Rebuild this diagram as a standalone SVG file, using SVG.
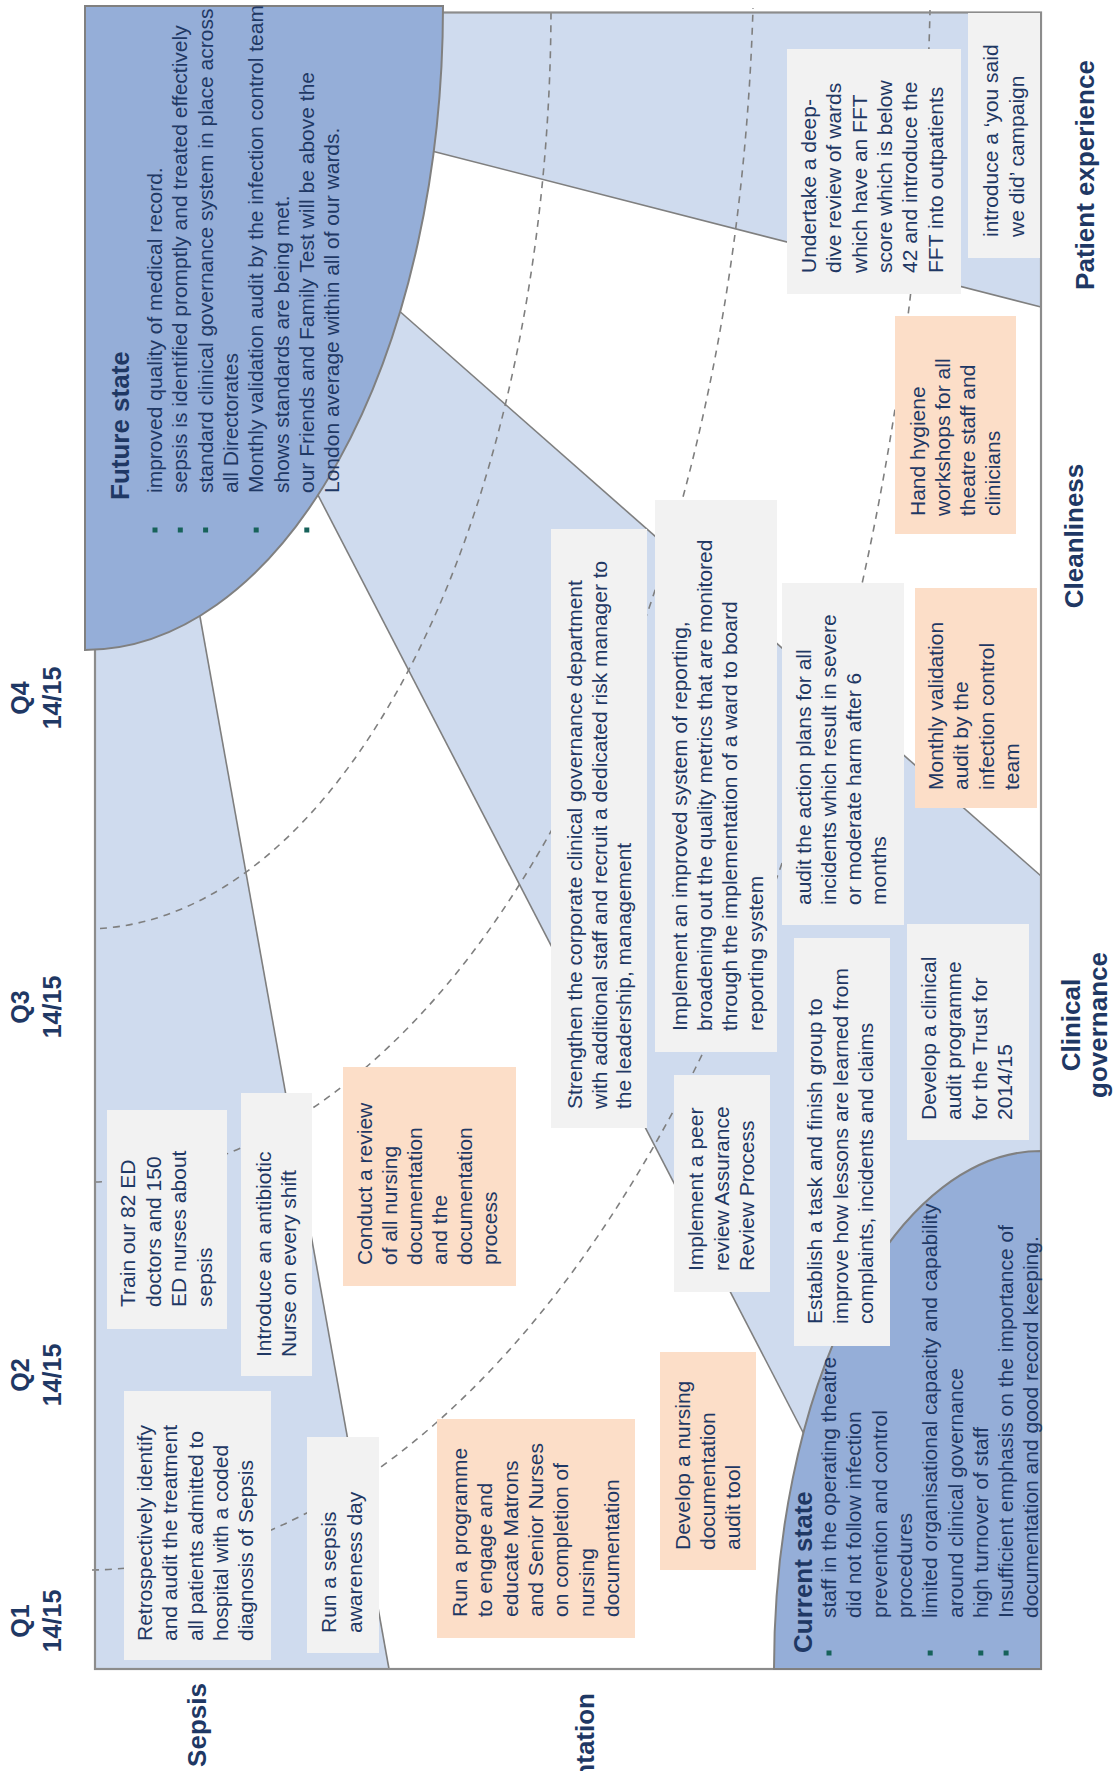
<svg xmlns="http://www.w3.org/2000/svg" width="1117" height="1771" viewBox="0 0 1117 1771">
<style>
.band{fill:#CFDBEE}
.edge{stroke:#7F7F7F;stroke-width:1.6;fill:none}
.arc{stroke:#7F7F7F;stroke-width:1.6;fill:none;stroke-dasharray:7 6}
.frame{stroke:#8C8C8C;stroke-width:2.2;fill:none}
.g{fill:#F2F2F2}
.p{fill:#FCDEC8}
.state{fill:#95AED8;stroke:#808080;stroke-width:2}
.t{font-family:"Liberation Sans",Arial,sans-serif;font-size:21px;fill:#1F3864}
.h{font-family:"Liberation Sans",Arial,sans-serif;font-size:26px;font-weight:bold;fill:#1F3864}
.q{font-family:"Liberation Sans",Arial,sans-serif;font-size:25px;font-weight:bold;fill:#1F3864}
.bul{fill:#17625A}
</style>
<rect width="1117" height="1771" fill="#FFFFFF"/>

<g id="lanes">
<polygon class="band" points="95,600 197,600 389,1669 95,1669"/>
<polygon class="band" points="305,470 380,294 1041,876 1041,1200 838,1500"/>
<polygon class="band" points="420,12.5 1041,12.5 1041,307 420,148"/>
</g>

<g id="milestones">
<path class="arc" d="M100,928.5 A466,923 0 0 0 551,10"/>
<path class="arc" d="M95,1182 A669,1242 0 0 0 753,8"/>
<path class="arc" d="M92,1570 A846,1630 0 0 0 930,10"/>
</g>

<g id="lane-edges">
<path class="edge" d="M197,600 L389,1669"/>
<path class="edge" d="M305,470 L838,1500"/>
<path class="edge" d="M380,294 L1041,876"/>
<path class="edge" d="M420,148 L1041,307"/>
<rect class="frame" x="95" y="12.5" width="946" height="1656.5"/>
</g>

<g id="future-state">
<path class="state" d="M85,6 H443 A358,644 0 0 1 85,650 Z"/>
<text class="h" transform="translate(129,500) rotate(-90)">Future state</text>
<rect class="bul" x="152.5" y="527.5" width="5" height="5"/>
<rect class="bul" x="177.8" y="527.5" width="5" height="5"/>
<rect class="bul" x="203.1" y="527.5" width="5" height="5"/>
<rect class="bul" x="253.7" y="527.5" width="5" height="5"/>
<rect class="bul" x="304.3" y="527.5" width="5" height="5"/>
<text class="t" transform="translate(162,493) rotate(-90)"><tspan x="0" y="0">improved quality of medical record.</tspan><tspan x="0" dy="25.3">sepsis is identified promptly and treated effectively</tspan><tspan x="0" dy="25.3">standard clinical governance system in place across</tspan><tspan x="0" dy="25.3">all Directorates</tspan><tspan x="0" dy="25.3">Monthly validation audit by the infection control team</tspan><tspan x="0" dy="25.3">shows standards are being met.</tspan><tspan x="0" dy="25.3">our Friends and Family Test will be above the</tspan><tspan x="0" dy="25.3">London average within all of our wards.</tspan></text>
</g>

<g id="current-state">
<path class="state" d="M1041,1669 H774 A267,518 0 0 1 1041,1151 Z"/>
<text class="h" transform="translate(812,1653) rotate(-90)">Current state</text>
<rect class="bul" x="826.5" y="1650.5" width="5" height="5"/>
<rect class="bul" x="927.7" y="1650.5" width="5" height="5"/>
<rect class="bul" x="978.3" y="1650.5" width="5" height="5"/>
<rect class="bul" x="1003.6" y="1650.5" width="5" height="5"/>
<text class="t" transform="translate(836,1618) rotate(-90)"><tspan x="0" y="0">staff in the operating theatre</tspan><tspan x="0" dy="25.3">did not follow infection</tspan><tspan x="0" dy="25.3">prevention and control</tspan><tspan x="0" dy="25.3">procedures</tspan><tspan x="0" dy="25.3">limited organisational capacity and capability</tspan><tspan x="0" dy="25.3">around clinical governance</tspan><tspan x="0" dy="25.3">high turnover of staff</tspan><tspan x="0" dy="25.3">Insufficient emphasis on the importance of</tspan><tspan x="0" dy="25.3">documentation and good record keeping.</tspan></text>
</g>

<g id="retrospective-audit">
<rect class="g" x="124" y="1391" width="147" height="269"/>
<text class="t" transform="translate(152,1641) rotate(-90)"><tspan x="0" y="0">Retrospectively identify</tspan><tspan x="0" dy="25.3">and audit the treatment</tspan><tspan x="0" dy="25.3">all patients admitted to</tspan><tspan x="0" dy="25.3">hospital with a coded</tspan><tspan x="0" dy="25.3">diagnosis of Sepsis</tspan></text>
</g>

<g id="sepsis-awareness-day">
<rect class="g" x="307" y="1437" width="72" height="216"/>
<text class="t" transform="translate(336,1633) rotate(-90)"><tspan x="0" y="0">Run a sepsis</tspan><tspan x="0" dy="26">awareness day</tspan></text>
</g>

<g id="train-ed-staff">
<rect class="g" x="107" y="1110" width="120" height="219"/>
<text class="t" transform="translate(135,1307) rotate(-90)"><tspan x="0" y="0">Train our 82 ED</tspan><tspan x="0" dy="25.5">doctors and 150</tspan><tspan x="0" dy="25.5">ED nurses about</tspan><tspan x="0" dy="25.5">sepsis</tspan></text>
</g>

<g id="antibiotic-nurse">
<rect class="g" x="241" y="1093" width="71" height="283"/>
<text class="t" transform="translate(271,1357) rotate(-90)"><tspan x="0" y="0">Introduce an antibiotic</tspan><tspan x="0" dy="25">Nurse on every shift</tspan></text>
</g>

<g id="review-nursing-documentation">
<rect class="p" x="343" y="1067" width="173" height="219"/>
<text class="t" transform="translate(372,1265) rotate(-90)"><tspan x="0" y="0">Conduct a review</tspan><tspan x="0" dy="25">of all nursing</tspan><tspan x="0" dy="25">documentation</tspan><tspan x="0" dy="25">and the</tspan><tspan x="0" dy="25">documentation</tspan><tspan x="0" dy="25">process</tspan></text>
</g>

<g id="matrons-programme">
<rect class="p" x="437" y="1419" width="198" height="219"/>
<text class="t" transform="translate(467,1617) rotate(-90)"><tspan x="0" y="0">Run a programme</tspan><tspan x="0" dy="25.3">to engage and</tspan><tspan x="0" dy="25.3">educate Matrons</tspan><tspan x="0" dy="25.3">and Senior Nurses</tspan><tspan x="0" dy="25.3">on completion of</tspan><tspan x="0" dy="25.3">nursing</tspan><tspan x="0" dy="25.3">documentation</tspan></text>
</g>

<g id="documentation-audit-tool">
<rect class="p" x="660" y="1352" width="96" height="218"/>
<text class="t" transform="translate(690,1550) rotate(-90)"><tspan x="0" y="0">Develop a nursing</tspan><tspan x="0" dy="25">documentation</tspan><tspan x="0" dy="25">audit tool</tspan></text>
</g>

<g id="peer-review">
<rect class="g" x="674" y="1075" width="96" height="217"/>
<text class="t" transform="translate(703,1271) rotate(-90)"><tspan x="0" y="0">Implement a peer</tspan><tspan x="0" dy="25.5">review Assurance</tspan><tspan x="0" dy="25.5">Review Process</tspan></text>
</g>

<g id="task-finish-group">
<rect class="g" x="794" y="938" width="96" height="408"/>
<text class="t" transform="translate(822,1324) rotate(-90)"><tspan x="0" y="0">Establish a task and finish group to</tspan><tspan x="0" dy="25.5">improve how lessons are learned from</tspan><tspan x="0" dy="25.5">complaints, incidents and claims</tspan></text>
</g>

<g id="clinical-audit-programme">
<rect class="g" x="907" y="924" width="122" height="216"/>
<text class="t" transform="translate(936,1120) rotate(-90)"><tspan x="0" y="0">Develop a clinical</tspan><tspan x="0" dy="25.3">audit programme</tspan><tspan x="0" dy="25.3">for the Trust for</tspan><tspan x="0" dy="25.3">2014/15</tspan></text>
</g>

<g id="audit-action-plans">
<rect class="g" x="782" y="583" width="122" height="342"/>
<text class="t" transform="translate(811,905) rotate(-90)"><tspan x="0" y="0">audit the action plans for all</tspan><tspan x="0" dy="25">incidents which result in severe</tspan><tspan x="0" dy="25">or moderate harm after 6</tspan><tspan x="0" dy="25">months</tspan></text>
</g>

<g id="monthly-validation">
<rect class="p" x="915" y="588" width="122" height="220"/>
<text class="t" transform="translate(943,790) rotate(-90)"><tspan x="0" y="0">Monthly validation</tspan><tspan x="0" dy="25.3">audit by the</tspan><tspan x="0" dy="25.3">infection control</tspan><tspan x="0" dy="25.3">team</tspan></text>
</g>

<g id="hand-hygiene">
<rect class="p" x="895" y="316" width="121" height="218"/>
<text class="t" transform="translate(925,516) rotate(-90)"><tspan x="0" y="0">Hand hygiene</tspan><tspan x="0" dy="25">workshops for all</tspan><tspan x="0" dy="25">theatre staff and</tspan><tspan x="0" dy="25">clinicians</tspan></text>
</g>

<g id="fft-review">
<rect class="g" x="787" y="49" width="174" height="245"/>
<text class="t" transform="translate(816,273) rotate(-90)"><tspan x="0" y="0">Undertake a deep-</tspan><tspan x="0" dy="25.3">dive review of wards</tspan><tspan x="0" dy="25.3">which have an FFT</tspan><tspan x="0" dy="25.3">score which is below</tspan><tspan x="0" dy="25.3">42 and introduce the</tspan><tspan x="0" dy="25.3">FFT into outpatients</tspan></text>
</g>

<g id="you-said-we-did">
<rect class="g" x="968" y="13" width="72" height="245"/>
<text class="t" transform="translate(998,237) rotate(-90)"><tspan x="0" y="0">introduce a ‘you said</tspan><tspan x="0" dy="26">we did’ campaign</tspan></text>
</g>

<g id="reporting-system">
<rect class="g" x="655" y="500" width="122" height="552"/>
<text class="t" transform="translate(687,1031) rotate(-90)"><tspan x="0" y="0">Implement an improved system of reporting,</tspan><tspan x="0" dy="25.2">broadening out the quality metrics that are monitored</tspan><tspan x="0" dy="25.2">through the implementation of a ward to board</tspan><tspan x="0" dy="25.2">reporting system</tspan></text>
</g>

<g id="strengthen-governance">
<rect class="g" x="551" y="529" width="96" height="599"/>
<text class="t" transform="translate(582,1109) rotate(-90)"><tspan x="0" y="0">Strengthen the corporate clinical governance department</tspan><tspan x="0" dy="24.5">with additional staff and recruit a dedicated risk manager to</tspan><tspan x="0" dy="24.5">the leadership, management</tspan></text>
</g>

<g id="quarter-labels">
<text class="q" text-anchor="middle" transform="translate(29,1621) rotate(-90)"><tspan x="0" y="0">Q1</tspan><tspan x="0" dy="32">14/15</tspan></text>
<text class="q" text-anchor="middle" transform="translate(29,1375) rotate(-90)"><tspan x="0" y="0">Q2</tspan><tspan x="0" dy="32">14/15</tspan></text>
<text class="q" text-anchor="middle" transform="translate(29,1007) rotate(-90)"><tspan x="0" y="0">Q3</tspan><tspan x="0" dy="32">14/15</tspan></text>
<text class="q" text-anchor="middle" transform="translate(29,698) rotate(-90)"><tspan x="0" y="0">Q4</tspan><tspan x="0" dy="32">14/15</tspan></text>
</g>

<g id="lane-labels">
<text class="h" text-anchor="middle" transform="translate(206,1725) rotate(-90)">Sepsis</text>
<text class="h" text-anchor="end" transform="translate(594,1693) rotate(-90)">Documentation</text>
<text class="h" text-anchor="middle" transform="translate(1080,1025) rotate(-90)"><tspan x="0" y="0">Clinical</tspan><tspan x="0" dy="27">governance</tspan></text>
<text class="h" text-anchor="middle" transform="translate(1083,536) rotate(-90)">Cleanliness</text>
<text class="h" text-anchor="middle" transform="translate(1094,175) rotate(-90)">Patient experience</text>
</g>
</svg>
